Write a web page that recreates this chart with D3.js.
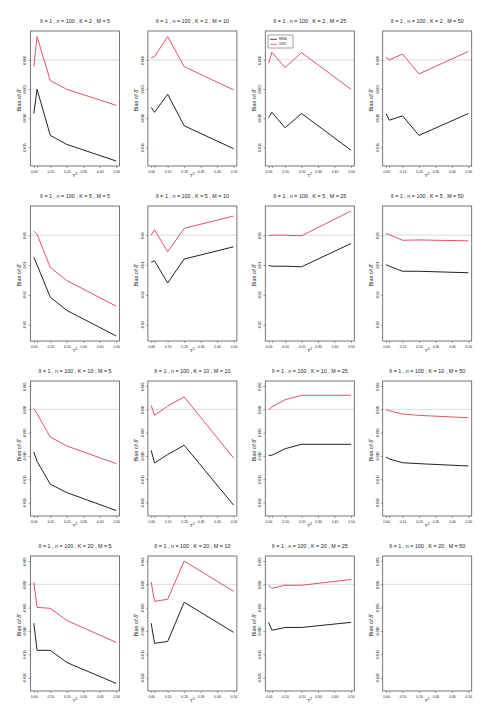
<!DOCTYPE html>
<html>
<head>
<meta charset="utf-8">
<script src="https://cdn.jsdelivr.net/npm/d3@7"></script>
<style>
  body { margin: 0; background: #fff; }
  text { font-family: "Liberation Sans", Arial, sans-serif; fill: #222; }
</style>
</head>
<body>
<div id="chart"></div>
<script>
const tau2 = [0, 0.02, 0.1, 0.2, 0.5];
const kValues = [2, 5, 10, 20];
const mValues = [5, 10, 25, 50];

// bias of delta-hat, one array per M (5, 10, 25, 50), for each K
const remlK2 = [
    [-0.0092, -0.00505, -0.01295, -0.0145, -0.01735],
    [-0.00815, -0.009, -0.0059, -0.0113, -0.01525],
    [-0.0099, -0.009, -0.01165, -0.0092, -0.0155],
    [-0.0092, -0.01035, -0.0096, -0.01295, -0.0092]
];
const sswK2 = [
    [-0.00115, 0.0040, -0.00355, -0.00505, -0.0078],
    [0.0004, 0.00055, 0.0040, -0.00115, -0.00515],
    [-0.00055, 0.0013, -0.0013, 0.00125, -0.00505],
    [0.00045, 0.0, 0.001, -0.0024, 0.00145]
];
const remlK5 = [
    [-0.0074, -0.010, -0.0208, -0.0252, -0.0338],
    [-0.0091, -0.0086, -0.016, -0.008, -0.0039],
    [-0.0102, -0.0104, -0.0104, -0.0106, -0.0028],
    [-0.0099, -0.0104, -0.0121, -0.0121, -0.0126]
];
const sswK5 = [
    [0.0014, 0.0003, -0.0108, -0.0152, -0.0238],
    [0.0, 0.0018, -0.0056, 0.0023, 0.0064],
    [-0.0002, 0.0, 0.0, -0.0002, 0.0081],
    [0.0005, 0.0002, -0.0017, -0.0016, -0.0019]
];
const remlK10 = [
    [-0.00915, -0.01115, -0.01605, -0.01785, -0.0217],
    [-0.0088, -0.0115, -0.0097, -0.0077, -0.02055],
    [-0.00985, -0.00985, -0.00845, -0.0075, -0.0075],
    [-0.0102, -0.01065, -0.01145, -0.01165, -0.01215]
];
const sswK10 = [
    [0.00015, -0.00095, -0.00595, -0.00785, -0.01165],
    [0.00085, -0.0013, 0.0007, 0.00265, -0.01045],
    [-0.00005, 0.0005, 0.00205, 0.003, 0.003],
    [-0.00005, -0.0003, -0.001, -0.0013, -0.0018]
];
const remlK20 = [
    [-0.00835, -0.01415, -0.01415, -0.01675, -0.02125],
    [-0.00835, -0.01265, -0.01225, -0.00385, -0.0103],
    [-0.00815, -0.00985, -0.00925, -0.00925, -0.00815],
    null
];
const sswK20 = [
    [0.0005, -0.00495, -0.00515, -0.00775, -0.01245],
    [0.0005, -0.00365, -0.0032, 0.005, -0.0015],
    [-0.0002, -0.00085, -0.0002, -0.0002, 0.00105],
    null
];

const remlRows = [remlK2, remlK5, remlK10, remlK20];
const sswRows = [sswK2, sswK5, sswK10, sswK20];

const rowYlim = [[-0.01735, 0.0041], [-0.0338, 0.0081], [-0.0218, 0.005], [-0.0218, 0.005]];
const rowYTicks = [
    [0, -0.005, -0.01, -0.015],
    [0, -0.01, -0.02, -0.03],
    [0.005, 0, -0.005, -0.01, -0.015, -0.02],
    [0.005, 0, -0.005, -0.01, -0.015, -0.02]
];
const rowTickDigits = [3, 2, 3, 3];
const xTicks = [0, 0.02, 0.1, 0.2, 0.3, 0.4, 0.5];
const legendLabels = ["REML", "SSW"];

const colors = { reml: "#222222", ssw: "#DF536B" };

const W = 495, H = 726;
const panel = { left0: 30.5, dx: 117.4, width: 89, top0: 31, dy: 175, height: 135 };

const svg = d3.select("#chart")
    .append("svg")
    .attr("width", W)
    .attr("height", H);

svg.append("rect").attr("width", W).attr("height", H).attr("fill", "#fff");

// R style 4% padding
function padded(lo, hi) {
    const r = hi - lo;
    return [lo - 0.04 * r, hi + 0.04 * r];
}

kValues.forEach((K, r) => {
    mValues.forEach((M, c) => {
        const left = panel.left0 + panel.dx * c;
        const top = panel.top0 + panel.dy * r;
        const g = svg.append("g").attr("transform", `translate(${left},${top})`);

        const x = d3.scaleLinear().domain(padded(0, 0.5)).range([0, panel.width]);
        const y = d3.scaleLinear().domain(padded(rowYlim[r][0], rowYlim[r][1])).range([panel.height, 0]);

        // zero reference
        g.append("line")
            .attr("x1", 0).attr("x2", panel.width)
            .attr("y1", y(0)).attr("y2", y(0))
            .attr("stroke", "#d6d6d6").attr("stroke-width", 0.9);

        const line = d3.line().x((d, i) => x(tau2[i])).y(d => y(d));
        const reml = remlRows[r][c];
        const ssw = sswRows[r][c];
        if (ssw) {
            g.append("path").attr("d", line(ssw))
                .attr("fill", "none").attr("stroke", colors.ssw).attr("stroke-width", 1);
        }
        if (reml) {
            g.append("path").attr("d", line(reml))
                .attr("fill", "none").attr("stroke", colors.reml).attr("stroke-width", 1);
        }

        // x axis
        const xAxis = g.append("g")
            .attr("transform", `translate(0,${panel.height})`)
            .call(d3.axisBottom(x).tickValues(xTicks).tickSize(2).tickSizeOuter(0)
                .tickFormat(d => d === 0.02 ? "" : d3.format(".2f")(d)));
        xAxis.select(".domain").remove();
        xAxis.selectAll("line").attr("stroke", "#444").attr("stroke-width", 0.5);
        xAxis.selectAll("text").attr("font-size", 3.4).attr("y", 4.2).attr("dy", "0.71em").attr("fill", "#333");

        // y axis
        const yAxis = g.append("g")
            .call(d3.axisLeft(y).tickValues(rowYTicks[r]).tickSize(2).tickSizeOuter(0)
                .tickFormat(d3.format(`.${rowTickDigits[r]}f`)));
        yAxis.select(".domain").remove();
        yAxis.selectAll("line").attr("stroke", "#444").attr("stroke-width", 0.5);
        yAxis.selectAll("text")
            .attr("x", null).attr("dy", null)
            .attr("transform", "translate(-4.2,0) rotate(-90)")
            .attr("text-anchor", "middle")
            .attr("font-size", 3.4).attr("fill", "#333")
            .text(d => d3.format(`.${rowTickDigits[r]}f`)(d).replace("−", "-"));

        // frame
        g.append("rect")
            .attr("width", panel.width).attr("height", panel.height)
            .attr("fill", "none").attr("stroke", "#555").attr("stroke-width", 0.8);

        // title
        g.append("text")
            .attr("x", panel.width / 2).attr("y", -8)
            .attr("text-anchor", "middle")
            .attr("font-size", 5.4)
            .attr("fill", "#333")
            .text(`δ = 1 , n = 100 , K = ${K} , M = ${M}`);

        // axis titles
        g.append("text")
            .attr("transform", `translate(-9.5,${panel.height / 2 + 2}) rotate(-90)`)
            .attr("text-anchor", "middle")
            .attr("font-size", 5.6)
            .text("Bias of δ\u0302");

        const xt = g.append("text")
            .attr("x", panel.width / 2).attr("y", panel.height + 10.5)
            .attr("text-anchor", "middle")
            .attr("font-size", 5.6)
            .text("τ");
        xt.append("tspan").attr("dy", -2).attr("font-size", 4).text("2");

        // legend
        if (r === 0 && c === 2) {
            const lg = g.append("g").attr("transform", "translate(2.7,4)");
            lg.append("rect").attr("width", 25).attr("height", 13)
                .attr("fill", "#fff").attr("stroke", "#444").attr("stroke-width", 0.5);
            [colors.reml, colors.ssw].forEach((col, i) => {
                const ly = 4.3 + i * 5;
                lg.append("line").attr("x1", 2).attr("x2", 9).attr("y1", ly).attr("y2", ly)
                    .attr("stroke", col).attr("stroke-width", 0.8);
                lg.append("text").attr("x", 11).attr("y", ly + 1.1)
                    .attr("font-size", 3).text(legendLabels[i]);
            });
        }
    });
});
</script>
</body>
</html>
